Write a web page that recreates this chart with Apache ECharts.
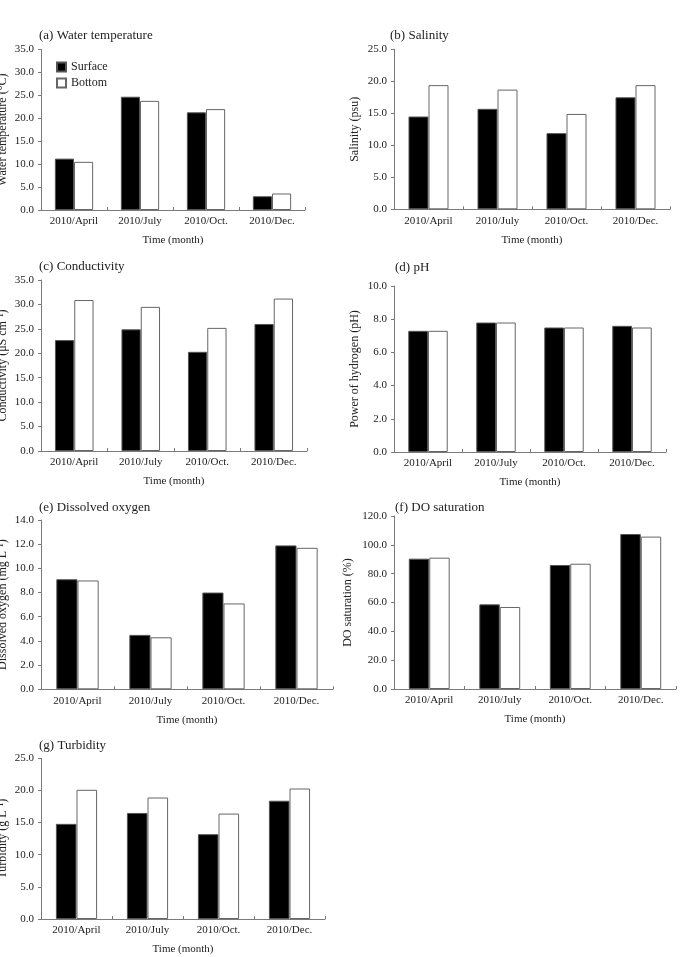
<!DOCTYPE html>
<html>
<head>
<meta charset="utf-8">
<title>Water quality</title>
<script src="https://cdn.jsdelivr.net/npm/echarts@6/dist/echarts.min.js"></script>
<style>
    html, body { margin: 0; padding: 0; background: #fff; }
    #chart { width: 682px; height: 957px; }
</style>
</head>
<body>
<div id="chart"></div>
<script>
    // categories
    var months = ['2010/April', '2010/July', '2010/Oct.', '2010/Dec.'];

    // (a) water temperature
    var tempSurface = [11.2, 24.7, 21.3, 3.0];
    var tempBottom = [10.5, 23.8, 22.0, 3.6];
    // (b) salinity
    var salSurface = [14.5, 15.7, 11.9, 17.5];
    var salBottom = [19.4, 18.7, 14.9, 19.4];
    // (c) conductivity
    var condSurface = [22.7, 24.9, 20.3, 26.0];
    var condBottom = [30.9, 29.5, 25.2, 31.2];
    // (d) pH
    var phSurface = [7.3, 7.8, 7.5, 7.6];
    var phBottom = [7.3, 7.8, 7.5, 7.5];
    // (e) dissolved oxygen
    var doSurface = [9.1, 4.5, 8.0, 11.9];
    var doBottom = [9.0, 4.3, 7.1, 11.7];
    // (f) DO saturation
    var dosatSurface = [90.4, 58.7, 86.0, 107.5];
    var dosatBottom = [91.1, 56.9, 86.9, 105.7];
    // (g) turbidity
    var turbSurface = [14.8, 16.5, 13.2, 18.4];
    var turbBottom = [20.1, 18.9, 16.4, 20.3];

    var font = 'Liberation Serif';
    var axisGrey = '#7a7a7a';

    var panels = [
        {title: '(a) Water temperature', yName: 'Water temperature (°C)', s: tempSurface, b: tempBottom, max: 35, step: 5,
            grid: {left: 41, top: 49.5, width: 264, height: 160.5}, tx: 39, ty: 29, gap: 32},
        {title: '(b) Salinity', yName: 'Salinity (psu)', s: salSurface, b: salBottom, max: 25, step: 5,
            grid: {left: 394, top: 49.3, width: 276, height: 160}, tx: 390, ty: 29, gap: 33},
        {title: '(c) Conductivity', yName: 'Conductivity (μS cm⁻¹)', s: condSurface, b: condBottom, max: 35, step: 5,
            grid: {left: 41, top: 280, width: 266, height: 171}, tx: 39, ty: 260, gap: 32},
        {title: '(d) pH', yName: 'Power of hydrogen (pH)', s: phSurface, b: phBottom, max: 10, step: 2,
            grid: {left: 394, top: 286, width: 272, height: 166}, tx: 395, ty: 261, gap: 33},
        {title: '(e) Dissolved oxygen', yName: 'Dissolved oxygen (mg L⁻¹)', s: doSurface, b: doBottom, max: 14, step: 2,
            grid: {left: 41, top: 520, width: 292, height: 169.3}, tx: 39, ty: 501, gap: 32},
        {title: '(f) DO saturation', yName: 'DO saturation (%)', s: dosatSurface, b: dosatBottom, max: 120, step: 20,
            grid: {left: 394, top: 516, width: 282, height: 173}, tx: 395, ty: 501, gap: 40},
        {title: '(g) Turbidity', yName: 'Turbidity (g L⁻¹)', s: turbSurface, b: turbBottom, max: 25, step: 5,
            grid: {left: 41, top: 758.3, width: 284, height: 160.7}, tx: 39, ty: 739, gap: 32}
    ];

    var option = {
        animation: false,
        backgroundColor: '#fff',
        textStyle: {fontFamily: font, color: '#222'},
        title: [],
        legend: {
            data: ['Surface', 'Bottom'],
            orient: 'vertical',
            left: 56,
            top: 61,
            padding: 0,
            itemWidth: 9,
            itemHeight: 9,
            itemGap: 4,
            icon: 'rect',
            textStyle: {fontFamily: font, fontSize: 12, color: '#222'}
        },
        grid: [],
        xAxis: [],
        yAxis: [],
        series: []
    };

    panels.forEach(function (p, i) {
        option.title.push({
            text: p.title, left: p.tx, top: p.ty, padding: 0,
            textStyle: {fontFamily: font, fontSize: 13, fontWeight: 'normal', color: '#222'}
        });
        // keep the grid where it is, even if the y name runs off the left edge
        var g = p.grid;
        g.outerBoundsMode = 'none';
        g.containLabel = false;
        option.grid.push(g);
        option.xAxis.push({
            type: 'category',
            gridIndex: i,
            data: months,
            name: 'Time (month)',
            nameLocation: 'middle',
            nameGap: 25,
            nameTextStyle: {fontFamily: font, fontSize: 11, color: '#222'},
            axisLine: {lineStyle: {color: axisGrey, width: 1}},
            axisTick: {show: true, inside: true, length: 3, lineStyle: {color: axisGrey}},
            axisLabel: {fontFamily: font, fontSize: 11, color: '#222', margin: 6}
        });
        option.yAxis.push({
            type: 'value',
            gridIndex: i,
            min: 0,
            max: p.max,
            interval: p.step,
            name: p.yName,
            nameLocation: 'middle',
            nameGap: p.gap,
            nameTextStyle: {fontFamily: font, fontSize: 12, color: '#222'},
            splitLine: {show: false},
            axisLine: {show: true, lineStyle: {color: axisGrey, width: 1}},
            axisTick: {show: true, length: 3, lineStyle: {color: axisGrey}},
            axisLabel: {
                fontFamily: font, fontSize: 11, color: '#222', margin: 7,
                formatter: function (v) { return v.toFixed(1); }
            }
        });
        option.series.push({
            name: 'Surface',
            type: 'bar',
            xAxisIndex: i,
            yAxisIndex: i,
            data: p.s,
            barGap: '0%',
            barCategoryGap: '42%',
            itemStyle: {color: '#000', borderColor: '#555', borderWidth: 1}
        });
        option.series.push({
            name: 'Bottom',
            type: 'bar',
            xAxisIndex: i,
            yAxisIndex: i,
            data: p.b,
            barGap: '0%',
            barCategoryGap: '42%',
            itemStyle: {color: '#fff', borderColor: '#666', borderWidth: 1}
        });
    });

    var myChart = echarts.init(document.getElementById('chart'), null, {renderer: 'canvas'});
    myChart.setOption(option);
</script>
</body>
</html>
